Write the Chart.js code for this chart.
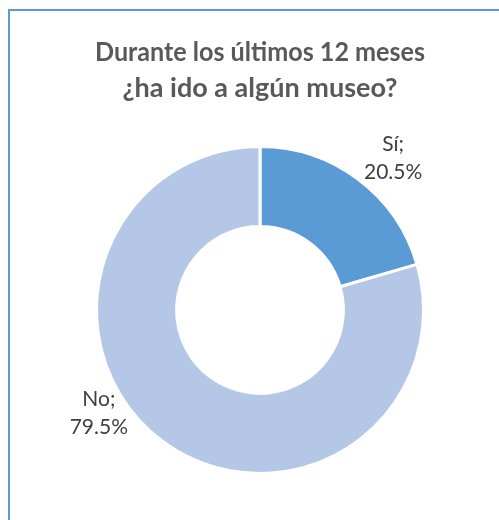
<!DOCTYPE html>
<html>
<head>
<meta charset="utf-8">
<script src="https://cdn.jsdelivr.net/npm/chart.js@4/dist/chart.umd.min.js"></script>
<style>
  html, body { margin: 0; padding: 0; background: #fff; }
  #wrap { position: relative; width: 499px; height: 520px; overflow: hidden; }
  #frame { position: absolute; left: 8px; top: 9px; width: 600px; height: 600px;
           border-left: 2px solid #5b9bd5; border-top: 2px solid #5b9bd5; }
  canvas { position: absolute; left: 0; top: 0; }
</style>
</head>
<body>
<div id="wrap">
  <div id="frame"></div>
  <canvas id="chart" width="499" height="520"></canvas>
</div>
<script>
// Data
const categories = ["Sí", "No"];
const percentages = [20.5, 79.5];
const sliceColors = ["#5b9bd5", "#b4c7e7"];
const titleLines = ["Durante los últimos 12 meses", "¿ha ido a algún museo?"];

// Draws "Sí;" / "20.5%" style labels outside each slice
const outsideLabels = {
  id: "outsideLabels",
  afterDatasetsDraw(chart, args, opts) {
    const ctx = chart.ctx;
    const meta = chart.getDatasetMeta(0);
    ctx.save();
    ctx.font = opts.font;
    ctx.fillStyle = opts.color;
    ctx.textAlign = "center";
    ctx.textBaseline = "middle";
    meta.data.forEach((arc, i) => {
      const p = arc.getProps(["x", "y", "startAngle", "endAngle", "outerRadius"], true);
      const mid = (p.startAngle + p.endAngle) / 2;
      const off = opts.offsets[i];
      const x = p.x + Math.cos(mid) * p.outerRadius + off[0];
      const y = p.y + Math.sin(mid) * p.outerRadius + off[1];
      ctx.fillText(categories[i] + ";", x, y - opts.lineGap / 2);
      ctx.fillText(percentages[i].toFixed(1) + "%", x, y + opts.lineGap / 2);
    });
    ctx.restore();
  }
};

const ctx = document.getElementById("chart").getContext("2d");
new Chart(ctx, {
  type: "doughnut",
  data: {
    labels: categories,
    datasets: [{
      data: percentages,
      backgroundColor: sliceColors,
      borderColor: "#ffffff",
      borderWidth: 3,
      hoverOffset: 0
    }]
  },
  options: {
    responsive: false,
    animation: false,
    cutout: "51%",
    layout: { padding: { left: 95, right: 74, top: 0, bottom: 45 } },
    plugins: {
      legend: { display: false },
      tooltip: { enabled: false },
      title: {
        display: true,
        text: titleLines,
        color: "#595959",
        font: { family: "Lato", size: 27, weight: "bold", lineHeight: 1.333 },
        padding: { top: 34, bottom: 39 }
      },
      outsideLabels: {
        font: "21px Lato",
        color: "#404040",
        lineGap: 28,
        offsets: [[35, -21], [-63, -28]]
      }
    }
  },
  plugins: [outsideLabels]
});
</script>
</body>
</html>
